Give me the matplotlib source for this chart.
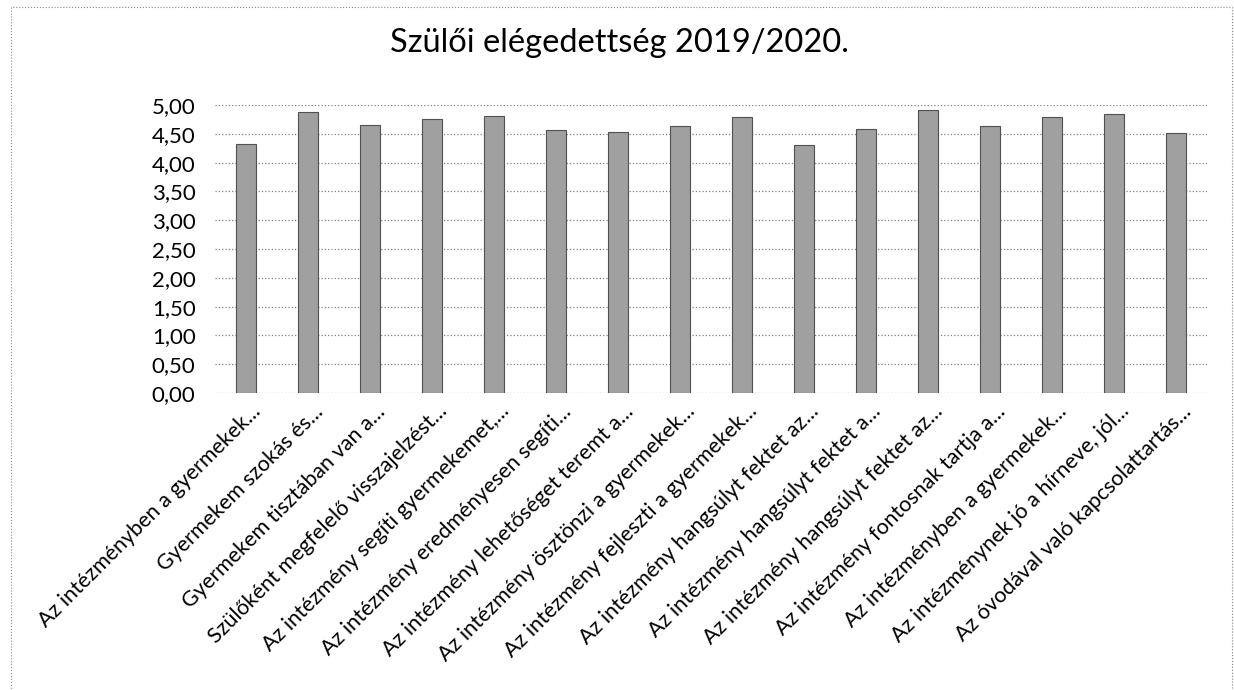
import matplotlib.pyplot as plt
import matplotlib
import numpy as np
from matplotlib.patches import Rectangle
from matplotlib.transforms import ScaledTranslation

matplotlib.rcParams['font.family'] = ['Lato', 'DejaVu Sans']
matplotlib.rcParams['axes.unicode_minus'] = False

# adatok
labels = [
    'Az intézményben a gyermekek...',
    'Gyermekem szokás és...',
    'Gyermekem tisztában van a...',
    'Szülőként megfelelő visszajelzést...',
    'Az intézmény segíti gyermekemet,...',
    'Az intézmény eredményesen segíti...',
    'Az intézmény lehetőséget teremt a...',
    'Az intézmény ösztönzi a gyermekek...',
    'Az intézmény fejleszti a gyermekek...',
    'Az intézmény hangsúlyt fektet az...',
    'Az intézmény hangsúlyt fektet a...',
    'Az intézmény hangsúlyt fektet az...',
    'Az intézmény fontosnak tartja a...',
    'Az intézményben a gyermekek...',
    'Az intézménynek jó a hírneve, jól...',
    'Az óvodával való kapcsolattartás...',
]
values = [4.33, 4.88, 4.65, 4.76, 4.81, 4.57, 4.53, 4.64,
          4.80, 4.31, 4.59, 4.91, 4.64, 4.80, 4.84, 4.52]
yticks = [0, 0.5, 1, 1.5, 2, 2.5, 3, 3.5, 4, 4.5, 5]

W, H = 1234, 690
fig = plt.figure(figsize=(W/100, H/100), dpi=100)
ax = fig.add_axes([215/W, 1 - 393/H, 992/W, 288/H])

x = np.arange(len(values))
ax.bar(x, values, width=0.31, color='#a0a0a0', edgecolor='#505050', linewidth=0.8, zorder=3)

ax.set_xlim(-0.5, len(values) - 0.5)
ax.set_ylim(0, 5)
ax.set_yticks(yticks)
ax.set_yticklabels([f'{v:.2f}'.replace('.', ',') for v in yticks], fontsize=16)
ax.set_xticks(x)
ax.set_xticklabels(labels, rotation=45, ha='right', va='center',
                   rotation_mode='anchor', fontsize=15.5)
ax.tick_params(length=0)
ax.tick_params(axis='x', pad=11)
ax.tick_params(axis='y', pad=14)

# címkék eltolása jobbra
off = ScaledTranslation(12/100, 0, fig.dpi_scale_trans)
for lab in ax.get_xticklabels():
    lab.set_transform(lab.get_transform() + off)

ax.grid(axis='y', ls=':', color='#808080', lw=0.9, zorder=0)
for s in ax.spines.values():
    s.set_visible(False)

fig.text(619/W, 1 - 43/H, 'Szülői elégedettség 2019/2020.', ha='center', va='center', fontsize=23.5)

# pontozott keret
fig.patches.append(Rectangle((11/W, -0.01), 1221/W, 1 - 7/H + 0.01, transform=fig.transFigure,
                             fill=False, ls=':', lw=0.8, edgecolor='#888888'))

plt.savefig('out.png', dpi=100)
